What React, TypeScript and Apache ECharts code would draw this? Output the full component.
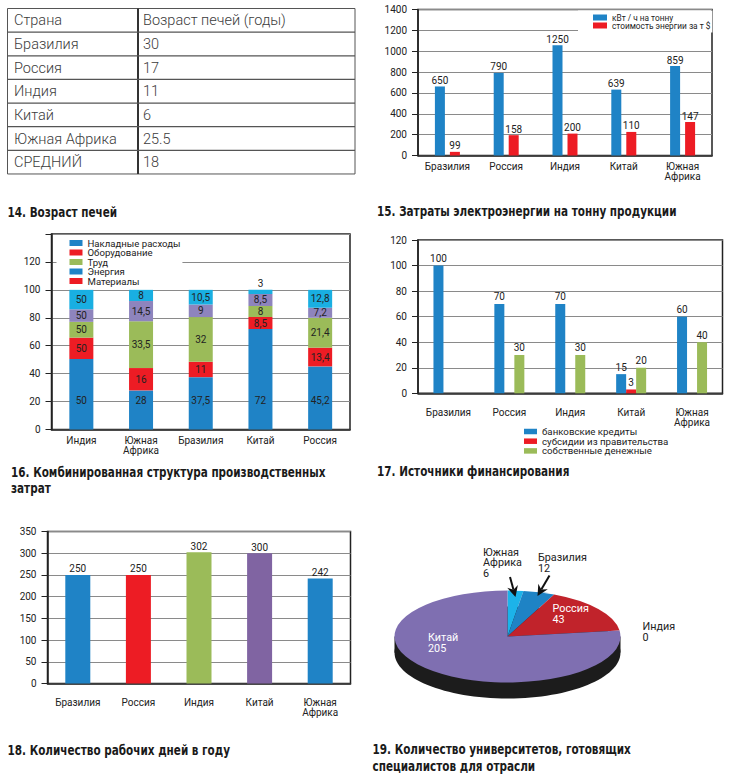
import React, { useEffect, useRef } from 'react';
import * as echarts from 'echarts';

// ---------- 14. Возраст печей (table) ----------
const tableHeader = ['Страна', 'Возраст печей (годы)'];
const furnaceCountries = ['Бразилия', 'Россия', 'Индия', 'Китай', 'Южная Африка', 'СРЕДНИЙ'];
const furnaceAges = ['30', '17', '11', '6', '25.5', '18'];

// ---------- 15. Затраты электроэнергии ----------
const energyCountries = ['Бразилия', 'Россия', 'Индия', 'Китай', 'Южная\nАфрика'];
const kwhPerTon = [662, 792, 1056, 632, 858];
const kwhPerTonLabels = ['650', '790', '1250', '639', '859'];
const energyCost = [35, 195, 210, 226, 321];
const energyCostLabels = ['99', '158', '200', '110', '147'];
const energyLegend = ['кВт / ч на тонну', 'стоимость энергии за т $'];

// ---------- 16. Структура затрат ----------
const costCountries = ['Индия', 'Южная\nАфрика', 'Бразилия', 'Китай', 'Россия'];
const costEnergy = [50.5, 28, 37.5, 72, 45.2];
const costEnergyLabels = ['50', '28', '37,5', '72', '45,2'];
const costMaterials = [15.3, 16, 11, 8.5, 13.4];
const costMaterialsLabels = ['50', '16', '11', '8,5', '13,4'];
const costLabour = [11.3, 33.5, 32, 8, 21.4];
const costLabourLabels = ['50', '33,5', '32', '8', '21,4'];
const costEquipment = [9, 14.5, 9, 8.5, 7.2];
const costEquipmentLabels = ['50', '14,5', '9', '8,5', '7,2'];
const costOverhead = [13.9, 8, 10.5, 3, 12.8];
const costOverheadLabels = ['50', '8', '10,5', '3', '12,8'];
const costLegend = ['Накладные расходы', 'Оборудование', 'Труд', 'Энергия', 'Материалы'];

// ---------- 17. Источники финансирования ----------
const financeCountries = ['Бразилия', 'Россия', 'Индия', 'Китай', 'Южная\nАфрика'];
const bankLoans = [100, 70, 70, 15, 60];
const subsidies = [null, null, null, 3, null];
const ownFunds = [null, 30, 30, 20, 40];
const financeLegend = ['банковские кредиты', 'субсидии из правительства', 'собственные денежные'];

// ---------- 18. Рабочие дни ----------
const workCountries = ['Бразилия', 'Россия', 'Индия', 'Китай', 'Южная\nАфрика'];
const workDays = [250, 250, 302, 300, 242];

// ---------- 19. Университеты ----------
const uniLabelNames = ['Южная\nАфрика', 'Бразилия', 'Россия', 'Индия', 'Китай'];
const uniValues = [6, 12, 43, 0, 205];

// ---------- styles ----------
const BLUE = '#1f83c6';
const RED = '#ed1c24';
const GREEN = '#9bbb59';
const PURPLE = '#8064a2';
const PURPLE_L = '#8e84bd';
const CYAN = '#19afe2';
const FONT = 'Roboto, "Noto Sans", sans-serif';
const TITLE_FONT = '"Liberation Sans Narrow", "DejaVu Sans Condensed", "Roboto Condensed", sans-serif';
const AX = '#222';
const GRIDC = '#8a8a8a';
const FS = 10;

const workColors = [BLUE, RED, GREEN, PURPLE, BLUE];
const costLegendColors = [BLUE, RED, GREEN, BLUE, RED];
const uniColors = ['#1cb3e9', '#1e83c5', '#c1232b', '#888888', '#7f6fb1'];

const PIE_CX = 507.5;
const PIE_CY = 636.5;
const PIE_R = 113;
const PIE_RY = 46;
const PIE_DEPTH = 16;

function xAxisFor(gridIndex: number, data: string[], margin: number) {
  return {
    type: 'category',
    gridIndex,
    data,
    axisLine: { lineStyle: { color: AX, width: 1.5 } },
    axisTick: { length: 6, lineStyle: { color: AX, width: 1 } },
    axisLabel: { color: '#222', fontSize: FS, lineHeight: 10, margin, interval: 0, fontFamily: FONT },
  };
}

function yAxisFor(gridIndex: number, max: number, interval: number, hideMax = false) {
  return {
    type: 'value',
    gridIndex,
    min: 0,
    max,
    interval,
    axisLine: { show: true, lineStyle: { color: AX, width: 1.5 } },
    axisTick: { show: true, length: 6, lineStyle: { color: AX, width: 1 } },
    axisLabel: {
      color: '#222',
      fontSize: FS,
      margin: 11,
      fontFamily: FONT,
      formatter: (v: number) => (hideMax && v >= max ? '' : String(v)),
    },
    splitLine: { show: true, lineStyle: { color: GRIDC, width: 1 } },
  };
}

function gridBox(left: number, top: number, width: number, height: number) {
  return { left, top, width, height, show: true, borderColor: AX, borderWidth: 1.5, containLabel: false };
}

const barLabel = (labels: string[], extra: any = {}) => ({
  show: true,
  color: '#222',
  fontSize: FS,
  fontFamily: FONT,
  formatter: (p: any) => labels[p.dataIndex],
  ...extra,
});

function titleText(text: string, x: number, y: number) {
  return {
    type: 'text',
    z: 100,
    x,
    y,
    scaleX: 0.83,
    style: {
      text,
      x: 0,
      y: 0,
      fill: '#1a1a1a',
      fontFamily: TITLE_FONT,
      fontWeight: 'bold',
      fontSize: 14,
      lineHeight: 16.6,
      align: 'left',
      verticalAlign: 'middle',
      textAlign: 'left',
      textVerticalAlign: 'middle',
    },
  };
}

function arrow(x0: number, y0: number, x1: number, y1: number) {
  const dx = x1 - x0;
  const dy = y1 - y0;
  const len = Math.sqrt(dx * dx + dy * dy);
  const ux = dx / len;
  const uy = dy / len;
  const px = -uy;
  const py = ux;
  const L = 11;
  const W = 5.5;
  const bx = x1 - ux * L;
  const by = y1 - uy * L;
  const nx = x1 - ux * (L - 3.5);
  const ny = y1 - uy * (L - 3.5);
  return [
    { type: 'line', z: 100, shape: { x1: x0, y1: y0, x2: nx, y2: ny }, style: { stroke: '#111', lineWidth: 2 } },
    {
      type: 'polygon',
      z: 100,
      shape: { points: [[x1, y1], [bx + px * W, by + py * W], [nx, ny], [bx - px * W, by - py * W]] },
      style: { fill: '#111' },
    },
  ];
}

function buildOption() {
  // table graphics
  const tX = 7.5;
  const tY = 8.5;
  const tW = 347.5;
  const rowH = 23.64;
  const colX = 138;
  const rows = [tableHeader, ...furnaceCountries.map((c, i) => [c, furnaceAges[i]])];
  const tableEls: any[] = [
    {
      type: 'rect',
      shape: { x: tX, y: tY, width: tW, height: rowH * rows.length },
      style: { fill: 'none', stroke: '#555', lineWidth: 1 },
    },
    {
      type: 'line',
      shape: { x1: colX, y1: tY, x2: colX, y2: tY + rowH * rows.length },
      style: { stroke: '#333', lineWidth: 2 },
    },
  ];
  for (let k = 1; k < rows.length; k++) {
    tableEls.push({
      type: 'line',
      shape: { x1: tX, y1: tY + k * rowH, x2: tX + tW, y2: tY + k * rowH },
      style: { stroke: '#555', lineWidth: 1.2 },
    });
  }
  rows.forEach((r, k) => {
    [r[0], r[1]].forEach((t, c) => {
      tableEls.push({
        type: 'text',
        style: {
          text: t,
          x: c === 0 ? 14 : 143,
          y: tY + k * rowH + rowH / 2 + 0.5,
          fill: '#3c3c3c',
          fontFamily: 'Roboto, sans-serif',
          fontWeight: 300,
          fontSize: 14.5,
          align: 'left',
          verticalAlign: 'middle',
          textAlign: 'left',
          textVerticalAlign: 'middle',
        },
      });
    });
  });

  // pie labels
  const uniLabelPos: [number, number, string][] = [
    [483, 547, '#222'],
    [538, 552.5, '#222'],
    [552.5, 603.7, '#fff'],
    [642.5, 621.5, '#222'],
    [428, 632.7, '#fff'],
  ];
  const pieLabels = uniLabelNames.map((n, i) => ({
    type: 'text',
    z: 100,
    style: {
      text: `${n}\n${uniValues[i]}`,
      x: uniLabelPos[i][0],
      y: uniLabelPos[i][1],
      fill: uniLabelPos[i][2],
      fontFamily: FONT,
      fontSize: 10.8,
      lineHeight: 10.5,
      align: 'left',
      verticalAlign: 'top',
      textAlign: 'left',
      textVerticalAlign: 'top',
    },
  }));

  const uniTotal = uniValues.reduce((a, b) => a + b, 0);
  const uniStart = uniValues.map((_, i) => uniValues.slice(0, i).reduce((a, b) => a + b, 0));

  const costSeriesDefs = [
    { name: 'Энергия', data: costEnergy, labels: costEnergyLabels, color: BLUE },
    { name: 'Материалы', data: costMaterials, labels: costMaterialsLabels, color: RED },
    { name: 'Труд', data: costLabour, labels: costLabourLabels, color: GREEN },
    { name: 'Оборудование', data: costEquipment, labels: costEquipmentLabels, color: PURPLE_L },
    { name: 'Накладные расходы', data: costOverhead, labels: costOverheadLabels, color: CYAN },
  ];

  const costSeries = costSeriesDefs.map((d, si) => ({
    type: 'bar',
    name: d.name,
    xAxisIndex: 1,
    yAxisIndex: 1,
    stack: 'cost',
    barWidth: 24,
    itemStyle: { color: d.color },
    label: barLabel(d.labels, si === 0 ? { position: 'insideBottom', distance: 24 } : { position: 'inside' }),
    data: d.data.map((v) => (v < 5 ? { value: v, label: { position: 'top', distance: 1 } } : { value: v })),
  }));

  const finLabel = { show: true, position: 'top', distance: 2, color: '#222', fontSize: FS, fontFamily: FONT };

  return {
    animation: false,
    textStyle: { fontFamily: FONT },
    grid: [
      gridBox(418, 9.5, 294, 146),
      gridBox(51.5, 234, 298.5, 195.5),
      gridBox(418, 240, 304.5, 153.3),
      gridBox(47.5, 531.5, 303, 152),
    ],
    xAxis: [
      xAxisFor(0, energyCountries, 6),
      xAxisFor(1, costCountries, 6),
      xAxisFor(2, financeCountries, 14),
      xAxisFor(3, workCountries, 14),
    ],
    yAxis: [
      yAxisFor(0, 1400, 200),
      yAxisFor(1, 140, 20, true),
      yAxisFor(2, 120, 20),
      yAxisFor(3, 350, 50),
    ],
    legend: [
      {
        data: energyLegend,
        orient: 'vertical',
        left: 578,
        top: 10.5,
        padding: [3, 2, 3, 15],
        backgroundColor: '#fff',
        itemWidth: 14,
        itemHeight: 6,
        itemGap: 0,
        icon: 'rect',
        selectedMode: false,
        textStyle: { fontSize: 8.3, color: '#222', fontFamily: FONT },
      },
      {
        data: costLegend.map((n, i) => ({ name: n, itemStyle: { color: costLegendColors[i] } })),
        orient: 'vertical',
        left: 56.5,
        top: 235,
        padding: [3, 2, 2, 13],
        backgroundColor: '#fff',
        itemWidth: 13,
        itemHeight: 6,
        itemGap: -0.5,
        icon: 'rect',
        selectedMode: false,
        textStyle: { fontSize: 9.6, color: '#222', fontFamily: FONT },
      },
      {
        data: financeLegend,
        orient: 'vertical',
        left: 524,
        top: 426.5,
        padding: 0,
        itemWidth: 13,
        itemHeight: 5.5,
        itemGap: -0.3,
        icon: 'rect',
        selectedMode: false,
        textStyle: { fontSize: 9.7, color: '#222', fontFamily: FONT },
      },
    ],
    series: [
      {
        type: 'bar',
        name: energyLegend[0],
        xAxisIndex: 0,
        yAxisIndex: 0,
        data: kwhPerTon,
        barWidth: 10,
        barGap: '50%',
        itemStyle: { color: BLUE },
        label: barLabel(kwhPerTonLabels, { position: 'top', distance: 1 }),
      },
      {
        type: 'bar',
        name: energyLegend[1],
        xAxisIndex: 0,
        yAxisIndex: 0,
        data: energyCost,
        barWidth: 10,
        barGap: '50%',
        itemStyle: { color: RED },
        label: barLabel(energyCostLabels, { position: 'top', distance: 1 }),
      },
      ...costSeries,
      {
        type: 'bar',
        name: financeLegend[0],
        xAxisIndex: 2,
        yAxisIndex: 2,
        data: bankLoans,
        barWidth: 10,
        barGap: '0%',
        itemStyle: { color: BLUE },
        label: finLabel,
      },
      {
        type: 'bar',
        name: financeLegend[1],
        xAxisIndex: 2,
        yAxisIndex: 2,
        data: subsidies,
        barWidth: 10,
        barGap: '0%',
        itemStyle: { color: RED },
        label: finLabel,
      },
      {
        type: 'bar',
        name: financeLegend[2],
        xAxisIndex: 2,
        yAxisIndex: 2,
        data: ownFunds,
        barWidth: 10,
        barGap: '0%',
        itemStyle: { color: GREEN },
        label: finLabel,
      },
      {
        type: 'bar',
        name: 'Рабочие дни',
        xAxisIndex: 3,
        yAxisIndex: 3,
        barWidth: 25,
        data: workDays.map((v, i) => ({ value: v, itemStyle: { color: workColors[i] } })),
        label: { show: true, position: 'top', distance: 1, color: '#222', fontSize: FS, fontFamily: FONT },
      },
      {
        type: 'custom',
        name: 'Университеты',
        coordinateSystem: 'none',
        data: uniValues.map((v) => [v]),
        renderItem: (params: any, api: any) => {
          const i = params.dataIndex;
          const v = api.value(0);
          if (!v) return { type: 'group', children: [] };
          const a0 = -Math.PI / 2 + (uniStart[i] / uniTotal) * 2 * Math.PI;
          const a1 = a0 + (v / uniTotal) * 2 * Math.PI;
          return {
            type: 'group',
            x: PIE_CX,
            y: PIE_CY,
            scaleY: PIE_RY / PIE_R,
            children: [
              {
                type: 'sector',
                shape: { cx: 0, cy: 0, r: PIE_R, r0: 0, startAngle: a0, endAngle: a1, clockwise: true },
                style: { fill: uniColors[i] },
              },
            ],
          };
        },
      },
    ],
    graphic: [
      ...tableEls,
      {
        type: 'ellipse',
        z: 0,
        shape: { cx: PIE_CX, cy: PIE_CY + PIE_DEPTH, rx: PIE_R, ry: PIE_RY },
        style: { fill: '#1c1c1c' },
      },
      {
        type: 'rect',
        z: 0,
        shape: { x: PIE_CX - PIE_R, y: PIE_CY, width: PIE_R * 2, height: PIE_DEPTH },
        style: { fill: '#1c1c1c' },
      },
      ...pieLabels,
      ...arrow(510, 577, 515.5, 597),
      ...arrow(549.5, 575.5, 537.5, 596),
      titleText('14. Возраст печей', 7.5, 212),
      titleText('15. Затраты электроэнергии на тонну продукции', 377, 211),
      titleText('16. Комбинированная структура производственных\nзатрат', 11, 480),
      titleText('17. Источники финансирования', 377, 470.7),
      titleText('18. Количество рабочих дней в году', 7.5, 750),
      titleText('19. Количество университетов, готовящих\nспециалистов для отрасли', 372.5, 757.7),
    ],
  };
}

export default function App() {
  const ref = useRef<HTMLDivElement>(null);
  useEffect(() => {
    const chart = echarts.init(ref.current as HTMLDivElement, null, { renderer: 'svg' });
    chart.setOption(buildOption() as any);
    return () => chart.dispose();
  }, []);
  return (
    <div
      ref={ref}
      style={{ position: 'absolute', left: 0, top: 0, width: 730, height: 780, background: '#fff' }}
    />
  );
}
